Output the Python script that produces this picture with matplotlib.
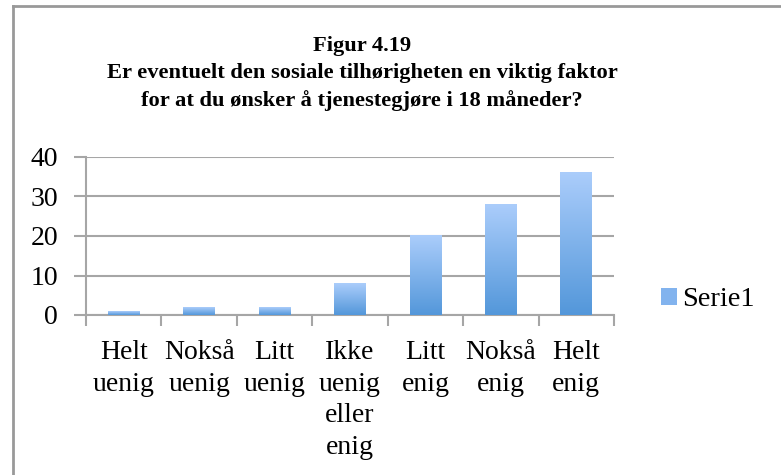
import numpy as np
import matplotlib
matplotlib.use('Agg')
import matplotlib.pyplot as plt
from matplotlib.colors import LinearSegmentedColormap
from matplotlib.patches import Patch
from matplotlib.lines import Line2D

# --- data ---
categories = ["Helt\nuenig", "Nokså\nuenig", "Litt\nuenig", "Ikke\nuenig\neller\nenig",
              "Litt\nenig", "Nokså\nenig", "Helt\nenig"]
serie1 = [1, 2, 2, 8, 20, 28, 36]
yticks = [0, 10, 20, 30, 40]
title = ("Figur 4.19\nEr eventuelt den sosiale tilhørigheten en viktig faktor\n"
         "for at du ønsker å tjenestegjøre i 18 måneder?")

plt.rcParams['font.family'] = ['Liberation Serif', 'DejaVu Serif']
grid_col = '#a6a6a6'
top_col, bot_col = '#abcdfb', '#5397da'
grad = LinearSegmentedColormap.from_list('bar', [bot_col, top_col])

fig = plt.figure(figsize=(7.81, 4.75), dpi=100)
ax = fig.add_axes([86 / 781, 1 - 315 / 475, 528 / 781, 158 / 475])

x = np.arange(len(categories))
bars = ax.bar(x, serie1, width=0.42, color='none', edgecolor='none', zorder=3)

# vertical gradient fill for every bar
g = np.linspace(0, 1, 256).reshape(-1, 1)
for b in bars:
    x0, w, h = b.get_x(), b.get_width(), b.get_height()
    ax.imshow(g, cmap=grad, origin='lower', aspect='auto',
              extent=[x0, x0 + w, 0, h], zorder=3, interpolation='bilinear')

ax.set_xlim(-0.5, len(categories) - 0.5)
ax.set_ylim(0, 40)
ax.set_yticks(yticks)
ax.set_yticklabels([str(v) for v in yticks], fontsize=20)
ax.yaxis.grid(True, color=grid_col, linewidth=1.5, zorder=0)
ax.set_axisbelow(True)

# category ticks sit on the boundaries, labels in the middle
ax.set_xticks(np.arange(len(categories) + 1) - 0.5)
ax.set_xticklabels([])
ax.set_xticks(x, minor=True)
ax.set_xticklabels(categories, minor=True, fontsize=20, linespacing=1.35, va='top')
ax.tick_params(axis='x', which='minor', length=0, pad=18)
ax.tick_params(axis='x', which='major', length=8, width=1.5, color=grid_col)
ax.tick_params(axis='y', length=9, width=1.5, color=grid_col, pad=11)

for s in ['top', 'right']:
    ax.spines[s].set_visible(False)
for s in ['left', 'bottom']:
    ax.spines[s].set_color(grid_col)
    ax.spines[s].set_linewidth(1.5)

fig.text(362 / 781, 1 - 36 / 475, title, ha='center', va='top', fontsize=16.2,
         fontweight='bold', linespacing=1.45)

leg = fig.legend(handles=[Patch(facecolor='#82b3ee', edgecolor='none', label='Serie1')],
                 loc='center left', bbox_to_anchor=(661 / 781, 1 - 300 / 475),
                 frameon=False, fontsize=20.5, handlelength=0.55, handleheight=0.55,
                 handletextpad=0.2, borderpad=0, borderaxespad=0)

# outer chart frame (top and left edges visible)
fig.add_artist(Line2D([13 / 781, 13 / 781], [0, 1 - 6 / 475], transform=fig.transFigure,
                      color='#999999', linewidth=2))
fig.add_artist(Line2D([13 / 781, 1], [1 - 6 / 475, 1 - 6 / 475], transform=fig.transFigure,
                      color='#999999', linewidth=2))

fig.savefig('out.png', dpi=100)
